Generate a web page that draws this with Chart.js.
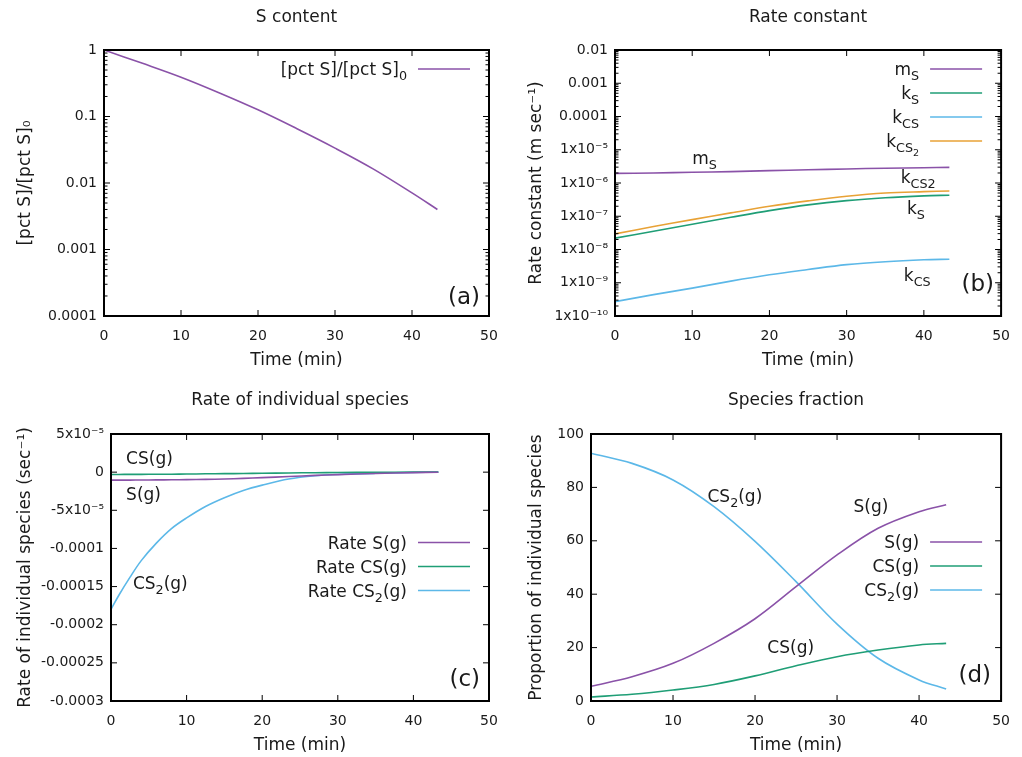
<!DOCTYPE html>
<html>
<head>
<meta charset="utf-8">
<script src="https://cdn.jsdelivr.net/npm/chart.js@4.4.1/dist/chart.umd.min.js"></script>
<style>
html,body{margin:0;padding:0;background:#fff}
#wrap{position:relative;width:1022px;height:757px}
canvas{position:absolute}
</style>
</head>
<body>
<div id="wrap">
<canvas id="pa" width="511" height="378" style="left:0;top:0"></canvas>
<canvas id="pb" width="511" height="378" style="left:511px;top:0"></canvas>
<canvas id="pc" width="511" height="379" style="left:0;top:378px"></canvas>
<canvas id="pd" width="511" height="379" style="left:511px;top:378px"></canvas>
</div>
<script>
// shared x axis
const xTicks=[0,10,20,30,40,50]

// (a) S content
const tA=[0,5,10,15,20,25,30,35,40,43.3]
const sRatio=[1,0.63,0.39,0.226,0.126,0.066,0.0335,0.0162,0.0071,0.004]
const yTicksA=[1e-4,1e-3,1e-2,0.1,1]
const yLabelsA=['0.0001','0.001','0.01','0.1','1']

// (b) rate constants
const tB=[0,5,10,15,20,25,30,35,40,43.3]
const mS=[1.95e-6,2.0e-6,2.1e-6,2.2e-6,2.35e-6,2.5e-6,2.65e-6,2.78e-6,2.88e-6,2.95e-6]
const kS=[2.2e-8,3.55e-8,5.75e-8,9.3e-8,1.48e-7,2.2e-7,2.95e-7,3.6e-7,4.1e-7,4.3e-7]
const kCS=[2.7e-10,4.4e-10,6.9e-10,1.12e-9,1.74e-9,2.5e-9,3.5e-9,4.3e-9,4.9e-9,5.1e-9]
const kCS2=[2.95e-8,4.9e-8,7.9e-8,1.26e-7,2.0e-7,2.9e-7,4.0e-7,5.0e-7,5.5e-7,5.75e-7]
const yTicksB=[1e-10,1e-9,1e-8,1e-7,1e-6,1e-5,1e-4,1e-3,1e-2]
const yLabelsB=['1x10⁻¹⁰','1x10⁻⁹','1x10⁻⁸','1x10⁻⁷','1x10⁻⁶','1x10⁻⁵','0.0001','0.001','0.01']

// (c) rate of individual species
const tC=[0,1,2.5,4,6,8,10,12.5,15,17.5,20,23.5,27,30,35,40,43.3]
const rateS=[-1.05e-5,-1.05e-5,-1.04e-5,-1.03e-5,-1.02e-5,-1.0e-5,-0.98e-5,-0.95e-5,-0.9e-5,-0.82e-5,-0.72e-5,-0.58e-5,-0.43e-5,-0.32e-5,-0.18e-5,-0.06e-5,-0.01e-5]
const rateCS=[-0.3e-5,-0.3e-5,-0.29e-5,-0.29e-5,-0.28e-5,-0.27e-5,-0.25e-5,-0.22e-5,-0.2e-5,-0.18e-5,-0.15e-5,-0.11e-5,-0.07e-5,-0.05e-5,-0.02e-5,0,0.02e-5]
const rateCS2=[-18.0e-5,-16.2e-5,-13.8e-5,-11.6e-5,-9.3e-5,-7.4e-5,-6.0e-5,-4.5e-5,-3.35e-5,-2.4e-5,-1.7e-5,-0.9e-5,-0.47e-5,-0.3e-5,-0.15e-5,-0.05e-5,0]
const yTicksC=[-3e-4,-2.5e-4,-2e-4,-1.5e-4,-1e-4,-5e-5,0,5e-5]
const yLabelsC=['-0.0003','-0.00025','-0.0002','-0.00015','-0.0001','-5x10⁻⁵','0','5x10⁻⁵']

// (d) species fraction
const tD=[0,5,10,15,20,25,30,35,40,43.3]
const fracS=[5.5,9.1,14.1,21.6,30.8,42.8,54.7,64.7,70.9,73.5]
const fracCS=[1.5,2.5,4.1,6.2,9.4,13.2,16.6,19.1,21,21.6]
const fracCS2=[92.8,89,82.8,72.8,59.8,44.7,28.8,16,7.9,4.5]
const yTicksD=[0,20,40,60,80,100]
const yLabelsD=['0','20','40','60','80','100']

const PURPLE='#8a52a8',GREEN='#1f9e76',BLUE='#5cb8e8',ORANGE='#e8a236'
const FONT='"DejaVu Sans", sans-serif'
const TXT='#1a1a1a'

// gnuplot style enhanced text: a_{b} subscript, a^{b} superscript
function enh(ctx,s,x,y,size,draw){
let i=0,w=0
while(i<s.length){
let c=s[i]
if(c==='_'||c==='^'){
i++
let g
if(s[i]==='{'){let d=1,j=i+1;while(d>0){if(s[j]==='{')d++;else if(s[j]==='}')d--;j++}g=s.slice(i+1,j-1);i=j}
else{g=s[i];i++}
const dy=c==='_'?size*0.3:-size*0.42
w+=enh(ctx,g,x+w,y+dy,size*0.75,draw)
}else{
let j=i
while(j<s.length&&s[j]!=='_'&&s[j]!=='^')j++
const t=s.slice(i,j)
ctx.font=size+'px '+FONT
if(draw)ctx.fillText(t,x+w,y)
w+=ctx.measureText(t).width
i=j
}
}
return w
}

function decor(chart,o){
const ctx=chart.ctx,a=chart.chartArea,xs=chart.scales.x,ys=chart.scales.y
ctx.save()
ctx.strokeStyle='#000'
ctx.lineWidth=1
const ln=(x1,y1,x2,y2)=>{ctx.beginPath();ctx.moveTo(x1,y1);ctx.lineTo(x2,y2);ctx.stroke()}
xTicks.forEach(v=>{
const p=xs.getPixelForValue(v)
ln(p,a.bottom,p,a.bottom-6);ln(p,a.top,p,a.top+6)
})
o.yTicks.forEach(v=>{
const p=ys.getPixelForValue(v)
ln(a.left,p,a.left+6,p);ln(a.right,p,a.right-6,p)
})
if(o.ytype==='logarithmic'){
const k0=Math.round(Math.log10(o.yTicks[0])),k1=Math.round(Math.log10(o.yTicks[o.yTicks.length-1]))
for(let k=k0;k<k1;k++)for(let m=2;m<10;m++){
const p=ys.getPixelForValue(m*Math.pow(10,k))
ln(a.left,p,a.left+3.5,p);ln(a.right,p,a.right-3.5,p)
}
}
ctx.lineWidth=2
ctx.strokeRect(a.left,a.top,a.right-a.left,a.bottom-a.top)

ctx.fillStyle=TXT
ctx.textAlign='center'
ctx.textBaseline='middle'
ctx.font='17px '+FONT
ctx.fillText(o.title,(a.left+a.right)/2,o.titleY)

ctx.textAlign='left'
ctx.textBaseline='alphabetic'
// key
o.series.forEach((s,i)=>{
const y=a.top+o.keyTop+24*i
const x1=a.right-71,x2=a.right-19
ctx.strokeStyle=s.color;ctx.lineWidth=1.6
ln(x1,y,x2,y)
const w=enh(ctx,s.key,0,0,17,false)
enh(ctx,s.key,x1-11-w,y+6,17,true)
})
// curve labels
o.notes.forEach(n=>{
enh(ctx,n.text,xs.getPixelForValue(n.x),ys.getPixelForValue(n.y)+6,17,true)
})
// panel letter
ctx.font='23px '+FONT
ctx.textAlign='right'
ctx.textBaseline='middle'
ctx.fillText(o.letter,a.right-o.letterPos[0],a.bottom-o.letterPos[1])
ctx.restore()
}

function panel(id,o){
const el=document.getElementById(id)
const W=el.width,H=el.height,A=o.area
new Chart(el,{
type:'line',
data:{
datasets:o.series.map(s=>({
label:s.key,
data:o.t.map((t,i)=>({x:t,y:s.v[i]})),
borderColor:s.color,
borderWidth:1.6,
pointRadius:0,
fill:false,
tension:0.35
}))
},
options:{
responsive:false,
animation:false,
devicePixelRatio:1,
layout:{padding:{left:0,top:A.top,right:W-A.right,bottom:0}},
plugins:{legend:{display:false},title:{display:false},tooltip:{enabled:false}},
scales:{
x:{
type:'linear',min:0,max:50,
afterBuildTicks:s=>{s.ticks=xTicks.map(v=>({value:v}))},
afterFit:s=>{s.height=H-A.bottom},
grid:{display:false,drawTicks:false},
border:{display:false},
ticks:{padding:12,autoSkip:false,maxRotation:0,color:TXT,font:{size:14,family:FONT},callback:(v,i)=>String(xTicks[i])},
title:{display:true,text:'Time (min)',color:TXT,font:{size:17,family:FONT},padding:{top:0,bottom:H-A.bottom-44.5-10.2}}
},
y:{
type:o.ytype,min:o.yTicks[0],max:o.yTicks[o.yTicks.length-1],
afterBuildTicks:s=>{s.ticks=o.yTicks.map(v=>({value:v}))},
afterFit:s=>{s.width=A.left},
grid:{display:false,drawTicks:false},
border:{display:false},
ticks:{padding:7,autoSkip:false,color:TXT,font:{size:14,family:FONT},callback:(v,i)=>o.yLabels[i]},
title:{display:true,text:o.ytitle,color:TXT,font:{size:17,family:FONT},padding:{top:15,bottom:0}}
}
}
},
plugins:[{id:'gp',afterDraw:c=>decor(c,o)}]
})
}

panel('pa',{
area:{left:104,right:489,top:50,bottom:316},
title:'S content',titleY:18,
t:tA,ytype:'logarithmic',yTicks:yTicksA,yLabels:yLabelsA,
ytitle:'[pct S]/[pct S]₀',
series:[{key:'[pct S]/[pct S]_0',v:sRatio,color:PURPLE}],
keyTop:19,
notes:[],
letter:'(a)',letterPos:[9,18]
})

panel('pb',{
area:{left:104,right:498,top:50,bottom:316},
title:'Rate constant',titleY:18,
t:tB,ytype:'logarithmic',yTicks:yTicksB,yLabels:yLabelsB,
ytitle:'Rate constant (m sec⁻¹)',
series:[
{key:'m_S',v:mS,color:PURPLE},
{key:'k_S',v:kS,color:GREEN},
{key:'k_{CS}',v:kCS,color:BLUE},
{key:'k_{CS_2}',v:kCS2,color:ORANGE}
],
keyTop:19,
notes:[
{text:'m_S',x:10,y:5.6e-6},
{text:'k_{CS2}',x:37,y:1.5e-6},
{text:'k_S',x:37.8,y:1.8e-7},
{text:'k_{CS}',x:37.4,y:1.7e-9}
],
letter:'(b)',letterPos:[7,31]
})

panel('pc',{
area:{left:111,right:489,top:56,bottom:323},
title:'Rate of individual species',titleY:23,
t:tC,ytype:'linear',yTicks:yTicksC,yLabels:yLabelsC,
ytitle:'Rate of individual species (sec⁻¹)',
series:[
{key:'Rate S(g)',v:rateS,color:PURPLE},
{key:'Rate CS(g)',v:rateCS,color:GREEN},
{key:'Rate CS_2(g)',v:rateCS2,color:BLUE}
],
keyTop:108.5,
notes:[
{text:'CS(g)',x:2,y:1.9e-5},
{text:'S(g)',x:2,y:-2.9e-5},
{text:'CS_2(g)',x:2.9,y:-1.45e-4}
],
letter:'(c)',letterPos:[9,21]
})

panel('pd',{
area:{left:80,right:491,top:56,bottom:323},
title:'Species fraction',titleY:23,
t:tD,ytype:'linear',yTicks:yTicksD,yLabels:yLabelsD,
ytitle:'Proportion of individual species',
series:[
{key:'S(g)',v:fracS,color:PURPLE},
{key:'CS(g)',v:fracCS,color:GREEN},
{key:'CS_2(g)',v:fracCS2,color:BLUE}
],
keyTop:108,
notes:[
{text:'CS_2(g)',x:14.2,y:76.8},
{text:'S(g)',x:32,y:73},
{text:'CS(g)',x:21.5,y:20.2}
],
letter:'(d)',letterPos:[10,25]
})
</script>
</body>
</html>
